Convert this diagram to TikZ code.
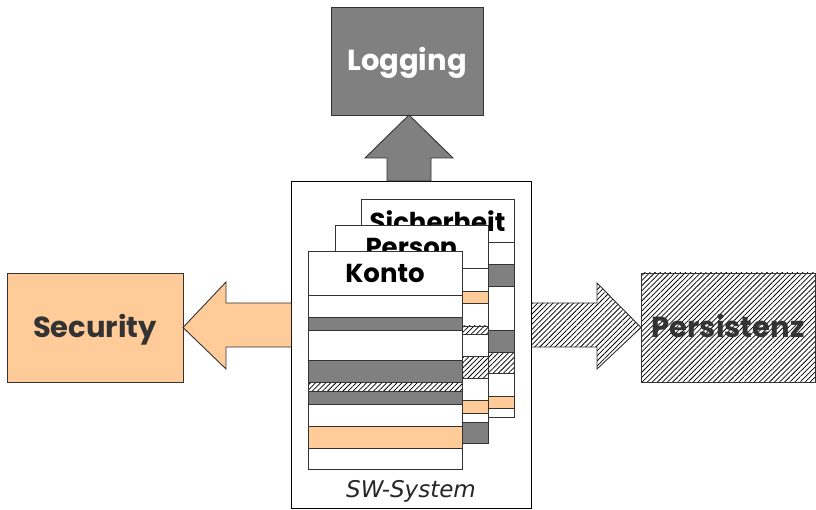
\documentclass[tikz,border=0pt]{standalone}
\usepackage{fontspec}
\setmainfont{Poppins}
\newfontfamily\swfont{DejaVu Sans}
\usetikzlibrary{patterns.meta,calc}
\definecolor{peach}{HTML}{FFCC99}
\definecolor{midgray}{HTML}{808080}
\definecolor{edge}{HTML}{333333}
\definecolor{txt}{HTML}{333333}
\tikzset{
  hatch/.style={pattern={Lines[angle=45,distance=3.6pt,line width=0.75pt]}},
  boxstyle/.style={draw=edge, line width=0.9pt, inner sep=0pt, outer sep=0pt, text height=22pt, text depth=2pt, font=\bfseries\fontsize{29}{34}\selectfont},
  cardtitle/.style={font=\bfseries\fontsize{26}{30}\selectfont},
  card/.style={draw=edge, line width=0.9pt, fill=white},
  stripe/.style={draw=edge, line width=0.9pt},
  arrowshape/.style={draw=edge, line width=0.9pt, line join=miter},
}
\begin{document}
\begin{tikzpicture}[x=1pt,y=1pt]
\useasboundingbox[fill=white] (0,0) rectangle (816,-510);
% outer boxes
\node[boxstyle, fill=midgray, text=white, minimum width=152pt, minimum height=108pt] (log) at (407,-61) {Logging};
\node[boxstyle, fill=peach, text=txt, minimum width=176pt, minimum height=109pt] (sec) at (95,-327.5) {Security};
\node[boxstyle, hatch, text=txt, minimum width=174pt, minimum height=109pt] (per) at (728,-327.5) {Persistenz};
\node[draw=black, line width=0.9pt, fill=white, minimum width=240pt, minimum height=327pt, inner sep=0pt, outer sep=0pt] (sw) at (411,-344.5) {};
\node[font=\swfont\itshape\fontsize{23}{27}\selectfont, text=black!85] (swl) at (411,-491) {SW-System};
% up arrow to Logging
\draw[arrowshape, fill=midgray] (409,-181) -- ++(-22,0) -- ++(0,23) -- ++(-22,0) -- (409,-115) -- (453,-158) -- ++(-22,0) -- ++(0,-23) -- cycle;
% left arrow to Security
\draw[arrowshape, fill=peach] (sw.west |- 0,-303) -- (226,-303) -- (226,-282) -- (sec.east) -- (226,-369) -- (226,-347) -- (sw.west |- 0,-347) ;
% right arrow to Persistenz
\draw[arrowshape, hatch] (sw.east |- 0,-303) -- (597,-303) -- (597,-283) -- (per.west) -- (597,-369) -- (597,-347) -- (sw.east |- 0,-347);
% Sicherheit card
\draw[card] (361,-199) rectangle (514,-417);
\node[cardtitle] (tsich) at (437.5,-221) {Sicherheit};
\draw[stripe] (361,-242) -- (514,-242);
\draw[stripe, fill=midgray] (361,-264) rectangle (514,-286);
\draw[stripe, fill=midgray] (361,-330) rectangle (514,-352);
\draw[stripe, hatch] (361,-352) rectangle (514,-373);
\draw[stripe, fill=peach] (361,-396) rectangle (514,-408);
% Person card
\draw[card] (335,-225) rectangle (488,-443);
\node[cardtitle] (tpers) at (411.5,-247) {Person};
\draw[stripe] (335,-268) -- (488,-268);
\draw[stripe, fill=peach] (335,-291) rectangle (488,-303);
\draw[stripe, hatch] (335,-326) rectangle (488,-334);
\draw[stripe, hatch] (335,-356) rectangle (488,-378);
\draw[stripe, fill=peach] (335,-400) rectangle (488,-413);
\draw[stripe, fill=midgray] (335,-422) rectangle (488,-443);
% Konto card
\draw[card] (308,-251) rectangle (462,-469);
\node[cardtitle] (tkonto) at (385,-273.5) {Konto};
\draw[stripe] (308,-295) -- (462,-295);
\draw[stripe, fill=midgray] (308,-317) rectangle (462,-330);
\draw[stripe, fill=midgray] (308,-360) rectangle (462,-382);
\draw[stripe, hatch] (308,-382) rectangle (462,-391);
\draw[stripe, fill=midgray] (308,-391) rectangle (462,-404);
\draw[stripe, fill=peach] (308,-426) rectangle (462,-448);
\end{tikzpicture}
\end{document}
